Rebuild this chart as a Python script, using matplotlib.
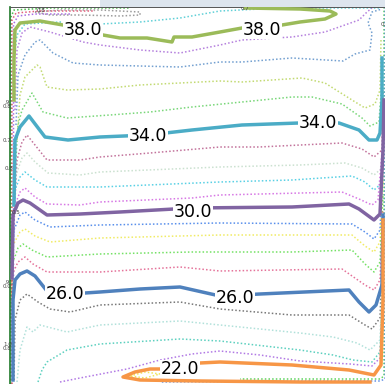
import matplotlib
matplotlib.use('Agg')
import matplotlib.pyplot as plt
from matplotlib.patches import Rectangle

# isotherms, one list pair per level
# x = distance from the hot (left) wall, y = height above the floor, both in px-like units
x_396 = [25, 50, 90, 130, 130, 110, 70, 40, 25]
y_396 = [370, 372, 372, 370, 367, 366, 367, 367, 370]
x_388 = [4, 7, 15, 50, 90, 130, 170, 210, 250, 320, 370]
y_388 = [322, 347, 358, 360, 358, 360, 364, 371, 373, 374, 374]
x_380 = [4, 4, 5, 10, 30, 53, 73, 93, 110, 137, 162, 164, 182, 210, 232, 252, 272, 290, 315, 326, 320, 290, 235]
y_380 = [282, 322, 352, 359, 361, 357, 352, 347, 344, 344, 340, 345, 345, 350, 354, 355, 357, 360, 363, 368, 371, 373, 374]
x_372 = [5, 7, 12, 20, 40, 73, 90, 130, 170, 210, 232, 282, 315, 349, 357, 362]
y_372 = [272, 332, 349, 355, 350, 340, 337, 332, 329, 337, 342, 345, 350, 362, 370, 374]
x_364 = [6, 8, 15, 25, 30, 43, 63, 90, 130, 170, 210, 232, 282, 333, 345, 360, 362, 358, 362, 372]
y_364 = [257, 307, 327, 340, 342, 329, 319, 317, 316, 315, 320, 320, 324, 321, 328, 332, 349, 359, 370, 373]
x_356 = [7, 10, 15, 27, 30, 37, 57, 90, 130, 170, 210, 232, 292, 315, 342, 355, 365, 370, 371]
y_356 = [242, 287, 305, 317, 315, 295, 292, 293, 297, 299, 301, 300, 304, 299, 282, 274, 278, 292, 342]
x_348 = [5, 8, 12, 22, 33, 57, 100, 140, 182, 232, 282, 302, 332, 352, 360, 369, 372]
y_348 = [207, 257, 272, 289, 270, 264, 267, 270, 275, 280, 285, 285, 278, 264, 256, 260, 302]
x_340 = [4, 5, 10, 19, 35, 58, 90, 138, 182, 232, 289, 329, 349, 359, 367, 370, 372, 372]
y_340 = [177, 242, 255, 266, 245, 242, 245, 247, 252, 257, 259, 259, 252, 242, 242, 249, 282, 324]
x_332 = [4, 7, 12, 17, 25, 37, 70, 90, 140, 210, 249, 332, 352, 364, 372, 373]
y_332 = [162, 222, 240, 247, 237, 222, 222, 225, 229, 235, 235, 239, 233, 225, 232, 292]
x_324 = [3, 6, 12, 17, 25, 38, 70, 90, 210, 290, 335, 352, 364, 372, 373]
y_324 = [147, 207, 224, 229, 220, 209, 207, 210, 215, 217, 219, 214, 207, 214, 272]
x_316 = [3, 5, 10, 15, 25, 37, 70, 90, 210, 282, 342, 355, 364, 372, 373]
y_316 = [132, 192, 205, 210, 202, 195, 195, 195, 200, 202, 206, 200, 192, 199, 257]
x_308 = [2, 5, 10, 15, 25, 37, 70, 90, 182, 210, 332, 349, 362, 368, 373]
y_308 = [117, 177, 190, 194, 185, 178, 177, 180, 184, 187, 190, 183, 177, 182, 242]
x_300 = [2, 3, 8, 13, 20, 37, 70, 110, 182, 282, 339, 349, 364, 370, 373, 374]
y_300 = [104, 167, 179, 182, 179, 167, 168, 170, 174, 175, 178, 173, 162, 168, 232, 282]
x_292 = [2, 4, 10, 15, 25, 40, 90, 210, 342, 355, 364, 370, 373]
y_292 = [90, 152, 167, 170, 162, 155, 157, 159, 158, 150, 143, 152, 217]
x_284 = [1, 3, 10, 15, 25, 40, 90, 210, 342, 355, 364, 370, 373]
y_284 = [77, 137, 150, 153, 146, 140, 144, 147, 147, 136, 130, 140, 202]
x_276 = [1, 3, 8, 13, 22, 37, 90, 182, 282, 342, 355, 364, 370, 373]
y_276 = [64, 120, 134, 138, 132, 125, 128, 130, 130, 132, 118, 110, 120, 187]
x_268 = [1, 2, 8, 15, 23, 37, 90, 170, 210, 332, 355, 364, 370, 373]
y_268 = [52, 107, 120, 125, 118, 110, 110, 115, 111, 113, 97, 92, 102, 172]
x_260 = [3, 3, 5, 10, 17, 25, 37, 60, 90, 130, 170, 210, 250, 339, 349, 359, 366, 372, 373]
y_260 = [2, 82, 102, 108, 111, 106, 91, 88, 90, 93, 95, 86, 88, 92, 80, 70, 77, 97, 167]
x_252 = [4, 5, 10, 17, 28, 40, 60, 90, 170, 210, 282, 339, 355, 362, 370, 373]
y_252 = [2, 62, 82, 88, 80, 73, 70, 77, 80, 73, 67, 67, 57, 53, 64, 142]
x_244 = [7, 10, 17, 23, 30, 57, 90, 170, 210, 290, 323, 347, 360, 370, 373]
y_244 = [0, 32, 55, 50, 57, 50, 57, 61, 57, 49, 45, 39, 32, 42, 122]
x_236 = [28, 32, 37, 57, 90, 170, 210, 290, 323, 343, 362, 370, 373]
y_236 = [0, 12, 20, 32, 38, 43, 41, 32, 27, 22, 20, 30, 102]
x_228 = [50, 70, 117, 150, 182, 210, 250, 290, 340, 362, 370, 373]
y_228 = [0, 4, 13, 22, 28, 31, 27, 21, 18, 16, 24, 82]
x_220 = [360, 290, 190, 130, 113, 125, 140, 150, 190, 210, 282, 339, 364, 371, 373, 373]
y_220 = [0, 0, 1, 2, 5, 10, 13, 13, 19, 20, 17, 12, 7, 17, 82, 162]
x_212 = [120, 135, 150, 135, 120]
y_212 = [6, 10, 8, 4, 6]

# wall layers (hot wall left/top, cold wall right/bottom)
x_hot1 = [1, 1, 4, 40, 120]
y_hot1 = [-2, 365, 372, 374, 374]
x_hot2 = [2, 2, 6, 30, 85]
y_hot2 = [-2, 362, 369, 371, 371]
x_hot3 = [3.5, 3.5, 8, 25, 60]
y_hot3 = [40, 358, 366, 368, 368]
x_cold1 = [374, 374, 370, 300, 230]
y_cold1 = [375, 6, 3, 3, 3]
x_cold2 = [375, 375, 370, 300, 150]
y_cold2 = [375, 3, 1, 1, 0]

major = [(x_380, y_380, '#9bbb59'), (x_340, y_340, '#4bacc6'), (x_300, y_300, '#8064a2'),
         (x_260, y_260, '#4f81bd'), (x_220, y_220, '#f79646')]
minor = [(x_396, y_396, '#8a8a8a'), (x_388, y_388, '#45c8d0'), (x_372, y_372, '#a86ad8'),
         (x_364, y_364, '#5a8fc8'), (x_356, y_356, '#b8d45a'), (x_348, y_348, '#62d062'),
         (x_332, y_332, '#b85a8a'), (x_324, y_324, '#c2dcc8'), (x_316, y_316, '#3cc8e0'),
         (x_308, y_308, '#d060e0'), (x_292, y_292, '#3c7ce8'), (x_284, y_284, '#eee84a'),
         (x_276, y_276, '#5cdc4a'), (x_268, y_268, '#e05a88'), (x_252, y_252, '#606060'),
         (x_244, y_244, '#a4dcd4'), (x_236, y_236, '#40c8b4'), (x_228, y_228, '#a462e0'),
         (x_212, y_212, '#eee040'),
         (x_hot1, y_hot1, '#2fae2f'), (x_hot2, y_hot2, '#dd4466'), (x_hot3, y_hot3, '#9955dd'),
         (x_cold1, y_cold1, '#44cc44'), (x_cold2, y_cold2, '#4a7ee0')]

label_text = ['38.0', '38.0', '34.0', '34.0', '30.0', '26.0', '26.0', '22.0']
label_x = [73, 252, 138, 308, 183, 55, 225, 170]
label_y = [352, 352, 246, 259, 170, 88, 84, 13]

small_text = ['0.8', '0.7', '.9', '0.8', '0.7', '0.8', '0.5', '.9', '0.0', '1.0', '0.8', '0.']
small_x = [27, 231, -6, -7, -7, -5, 2, -6, -7, -7, -7, 371]
small_y = [371, 373, 280, 276, 242, 214, 169, 100, 96, 37, 33, 357]

fig = plt.figure(figsize=(3.85, 3.84), dpi=100)
fig.patches.append(Rectangle((100/385, 1 - 7/384), 1, 7/384, transform=fig.transFigure,
                             facecolor='#dde5ee', edgecolor='none'))
ax = fig.add_axes([10/385, 0, 375/385, 377/384])

for xs, ys, c in minor:
    ax.plot(xs, ys, color=c, lw=1.1, ls=(0, (1, 1.4)), alpha=0.85, clip_on=False)
ax.plot([0.3, 0.3], [-2, 375], color='#1f7a2a', lw=1.2, clip_on=False)

for xs, ys, c in major:
    ax.plot(xs, ys, color=c, lw=2.5, solid_joinstyle='round', clip_on=False, zorder=3)

for t, x, y in zip(label_text, label_x, label_y):
    ax.text(x, y, t, fontsize=12.5, ha='center', va='center', zorder=5,
            bbox=dict(facecolor='white', edgecolor='none', pad=0.2))

for t, x, y in zip(small_text, small_x, small_y):
    ax.text(x, y, t, fontsize=4, color='#444444', ha='left', va='center', clip_on=False)

ax.set_xlim(0, 375)
ax.set_ylim(-2, 375)
ax.set_xticks([])
ax.set_yticks([])
for side in ['left', 'right', 'bottom']:
    ax.spines[side].set_visible(False)
ax.spines['top'].set_color('#555555')
ax.spines['top'].set_linewidth(0.7)

fig.savefig('out.png', dpi=100)
